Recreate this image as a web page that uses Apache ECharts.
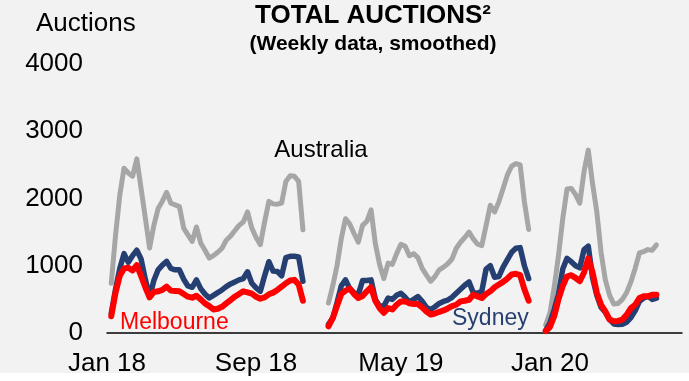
<!DOCTYPE html>
<html>
<head>
<meta charset="utf-8">
<script src="https://cdn.jsdelivr.net/npm/echarts@6/dist/echarts.min.js"></script>
<style>
  html, body { margin: 0; padding: 0; background: #ffffff; }
  #chart { width: 689px; height: 381px; background: linear-gradient(#f2f2f2 0, #f2f2f2 373px, #ffffff 373px); }
</style>
</head>
<body>
<div id="chart"></div>
<script>
// Weekly auction counts (smoothed); each auction season is a separate run of weeks.
const weekCount = 136;
const seasonStart = [1, 52, 103];

const australia2018 = [740, 1450, 2050, 2450, 2380, 2330, 2590, 2150, 1710, 1264,
  1600, 1850, 1960, 2090, 1930, 1905, 1880, 1560, 1460, 1362,
  1576, 1340, 1230, 1115, 1150, 1200, 1260, 1380, 1440, 1520,
  1600, 1650, 1800, 1560, 1420, 1313, 1650, 1957, 1920, 1915,
  1933, 2254, 2340, 2330, 2254, 1536];
const sydney2018 = [290, 650, 960, 1180, 1050, 1150, 1230, 1100, 800, 530,
  780, 940, 1010, 1065, 960, 940, 940, 800, 700, 680,
  790, 660, 580, 520, 560, 600, 640, 690, 730, 760,
  790, 810, 910, 740, 670, 620, 850, 1060, 920, 915,
  850, 1120, 1140, 1140, 1130, 770];
const melbourne2018 = [250, 600, 850, 960, 970, 930, 1010, 850, 680, 530,
  610, 620, 640, 690, 630, 625, 620, 580, 540, 525,
  555, 500, 440, 400, 350, 360, 390, 440, 490, 540,
  580, 620, 605, 585, 540, 510, 530, 575, 600, 640,
  690, 740, 780, 790, 720, 480];

const australia2019 = [446, 700, 1000, 1400, 1700, 1620, 1480, 1350, 1600, 1660,
  1830, 1330, 1020, 810, 1040, 1020, 1180, 1320, 1290, 1150,
  1180, 1120, 960, 860, 770, 840, 940, 980, 1030, 1100,
  1260, 1350, 1420, 1500, 1400, 1320, 1300, 1600, 1900, 1800,
  1950, 2150, 2350, 2480, 2520, 2500, 1950, 1540];
const sydney2019 = [130, 220, 450, 700, 790, 660, 600, 570, 780, 780,
  790, 500, 400, 400, 520, 500, 560, 590, 530, 460,
  500, 540, 470, 380, 350, 390, 440, 470, 490, 530,
  590, 650, 710, 760, 600, 590, 620, 950, 1000, 830,
  840, 980, 1090, 1200, 1260, 1270, 1000, 810];
const melbourne2019 = [100, 220, 400, 580, 630, 660, 580, 520, 550, 620,
  680, 480, 370, 300, 370, 350, 420, 470, 470, 440,
  430, 430, 380, 320, 275, 290, 315, 335, 365, 400,
  420, 470, 480, 495, 570, 545, 520, 580, 620, 680,
  720, 760, 810, 870, 880, 860, 650, 480];

const australia2020 = [120, 300, 680, 1150, 1700, 2140, 2150, 2060, 1930, 2400,
  2720, 2220, 1800, 1200, 790, 560, 430, 440, 500, 600,
  760, 960, 1190, 1210, 1240, 1230, 1310];
const sydney2020 = [40, 150, 350, 580, 950, 1110, 1060, 1000, 970, 1240,
  1290, 820, 560, 380, 310, 200, 135, 125, 130, 160,
  230, 330, 470, 520, 545, 500, 520];
const melbourne2020 = [30, 90, 250, 500, 700, 840, 860, 820, 770, 900,
  1110, 900, 600, 420, 320, 200, 175, 180, 200, 270,
  370, 420, 520, 545, 545, 570, 570];

const tickLabels = ['Jan 18', 'Sep 18', 'May 19', 'Jan 20'];
const tickWeeks = [0, 35, 69, 104];
const yTicks = [0, 1000, 2000, 3000, 4000];

// Lay the seasons onto one weekly timeline, leaving the summer breaks empty.
function timeline(seasons) {
  const out = new Array(weekCount).fill(null);
  seasons.forEach((vals, s) => {
    vals.forEach((v, k) => { out[seasonStart[s] + k] = v; });
  });
  return out;
}

const weeks = Array.from({ length: weekCount }, (_, i) => String(i));
const australia = timeline([australia2018, australia2019, australia2020]);
const sydney = timeline([sydney2018, sydney2019, sydney2020]);
const melbourne = timeline([melbourne2018, melbourne2019, melbourne2020]);

const FONT = '"Liberation Sans", Arial, sans-serif';
const NAVY = '#263f72';
const GREY = '#a6a6a6';
const RED = '#ff0000';

const chart = echarts.init(document.getElementById('chart'), null, { renderer: 'canvas' });

function line(name, data, color, width) {
  return {
    name, type: 'line', data,
    showSymbol: false, symbol: 'none', smooth: false, connectNulls: false,
    lineStyle: { color, width, cap: 'round', join: 'round' },
    emphasis: { disabled: true }
  };
}

chart.setOption({
  animation: false,
  backgroundColor: 'transparent',
  grid: { left: 107, right: 7, top: 64, bottom: 48, containLabel: false },
  xAxis: {
    type: 'category',
    data: weeks,
    boundaryGap: false,
    axisLine: { show: true, lineStyle: { color: '#000000', width: 1.5 } },
    axisTick: { show: false },
    splitLine: { show: false },
    axisLabel: {
      interval: (idx) => tickWeeks.includes(idx),
      formatter: (val) => {
        const k = tickWeeks.indexOf(Number(val));
        return k >= 0 ? tickLabels[k] : '';
      },
      color: '#000000', fontFamily: FONT, fontSize: 26, margin: 18
    }
  },
  yAxis: {
    type: 'value',
    min: yTicks[0], max: yTicks[yTicks.length - 1], interval: 1000,
    axisLine: { show: false },
    axisTick: { show: false },
    splitLine: { show: false },
    axisLabel: {
      formatter: (v) => String(v),
      color: '#000000', fontFamily: FONT, fontSize: 26, margin: 24
    }
  },
  series: [
    line('Australia', australia, GREY, 5),
    line('Sydney', sydney, NAVY, 5.5),
    line('Melbourne', melbourne, RED, 6)
  ],
  graphic: [
    { type: 'text', left: 36, top: 11,
      style: { text: 'Auctions', fill: '#000', font: '26px ' + FONT } },
    { type: 'text', x: 373, y: 16,
      style: { text: 'TOTAL AUCTIONS²', fill: '#000', font: 'bold 26px ' + FONT, align: 'center', verticalAlign: 'middle' } },
    { type: 'text', x: 373, y: 44,
      style: { text: '(Weekly data, smoothed)', fill: '#000', font: 'bold 21px ' + FONT, align: 'center', verticalAlign: 'middle' } },
    { type: 'text', x: 321, y: 150,
      style: { text: 'Australia', fill: '#000', font: '24px ' + FONT, align: 'center', verticalAlign: 'middle' } },
    { type: 'text', x: 120, y: 323,
      style: { text: 'Melbourne', fill: RED, font: '23px ' + FONT, align: 'left', verticalAlign: 'middle' } },
    { type: 'text', x: 452, y: 319,
      style: { text: 'Sydney', fill: NAVY, font: '23px ' + FONT, align: 'left', verticalAlign: 'middle' } }
  ]
});
</script>
</body>
</html>
